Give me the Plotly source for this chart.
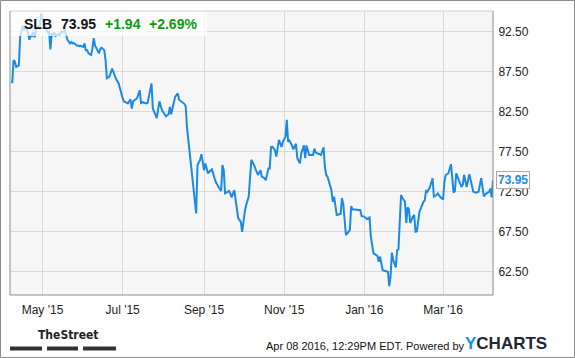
import plotly.graph_objects as go

dates = [
    "2015-04-07", "2015-04-08", "2015-04-09", "2015-04-10", "2015-04-11", "2015-04-13", "2015-04-14",
    "2015-04-15", "2015-04-16", "2015-04-17", "2015-04-18", "2015-04-20", "2015-04-21", "2015-04-22",
    "2015-04-23", "2015-04-24", "2015-04-25", "2015-04-26", "2015-04-27", "2015-04-29", "2015-04-30",
    "2015-05-01", "2015-05-03", "2015-05-05", "2015-05-06", "2015-05-07", "2015-05-08", "2015-05-09",
    "2015-05-10", "2015-05-11", "2015-05-13", "2015-05-14", "2015-05-15", "2015-05-16", "2015-05-18",
    "2015-05-19", "2015-05-20", "2015-05-22", "2015-05-23", "2015-05-24", "2015-05-25", "2015-05-27",
    "2015-05-28", "2015-05-29", "2015-05-30", "2015-06-01", "2015-06-02", "2015-06-03", "2015-06-04",
    "2015-06-05", "2015-06-07", "2015-06-08", "2015-06-09", "2015-06-10", "2015-06-12", "2015-06-13",
    "2015-06-14", "2015-06-15", "2015-06-17", "2015-06-18", "2015-06-19", "2015-06-21", "2015-06-23",
    "2015-06-25", "2015-06-26", "2015-06-28", "2015-06-29", "2015-07-01", "2015-07-02", "2015-07-05",
    "2015-07-07", "2015-07-08", "2015-07-09", "2015-07-11", "2015-07-12", "2015-07-14", "2015-07-15",
    "2015-07-16", "2015-07-19", "2015-07-20", "2015-07-23", "2015-07-24", "2015-07-27", "2015-07-29",
    "2015-07-31", "2015-08-03", "2015-08-05", "2015-08-06", "2015-08-07", "2015-08-10", "2015-08-12",
    "2015-08-13", "2015-08-15", "2015-08-17", "2015-08-18", "2015-08-19", "2015-08-21", "2015-08-23",
    "2015-08-24", "2015-08-26", "2015-08-27", "2015-08-29", "2015-08-30", "2015-09-01", "2015-09-02",
    "2015-09-04", "2015-09-05", "2015-09-07", "2015-09-09", "2015-09-10", "2015-09-12", "2015-09-14",
    "2015-09-15", "2015-09-16", "2015-09-17", "2015-09-18", "2015-09-20", "2015-09-21", "2015-09-22",
    "2015-09-24", "2015-09-25", "2015-09-27", "2015-09-29", "2015-09-30", "2015-10-02", "2015-10-03",
    "2015-10-05", "2015-10-06", "2015-10-07", "2015-10-09", "2015-10-11", "2015-10-12", "2015-10-14",
    "2015-10-15", "2015-10-17", "2015-10-18", "2015-10-20", "2015-10-21", "2015-10-22", "2015-10-23",
    "2015-10-25", "2015-10-26", "2015-10-28", "2015-10-30", "2015-10-31", "2015-11-02", "2015-11-03",
    "2015-11-04", "2015-11-05", "2015-11-07", "2015-11-08", "2015-11-10", "2015-11-11", "2015-11-13",
    "2015-11-14", "2015-11-16", "2015-11-17", "2015-11-18", "2015-11-20", "2015-11-21", "2015-11-23",
    "2015-11-24", "2015-11-25", "2015-11-28", "2015-11-29", "2015-12-01", "2015-12-02", "2015-12-03",
    "2015-12-04", "2015-12-07", "2015-12-08", "2015-12-09", "2015-12-11", "2015-12-13", "2015-12-14",
    "2015-12-15", "2015-12-16", "2015-12-18", "2015-12-19", "2015-12-21", "2015-12-22", "2015-12-23",
    "2015-12-25", "2015-12-29", "2015-12-30", "2016-01-01", "2016-01-03", "2016-01-05", "2016-01-06",
    "2016-01-08", "2016-01-11", "2016-01-12", "2016-01-13", "2016-01-14", "2016-01-15", "2016-01-17",
    "2016-01-19", "2016-01-20", "2016-01-21", "2016-01-22", "2016-01-23", "2016-01-25", "2016-01-26",
    "2016-01-27", "2016-01-29", "2016-01-30", "2016-02-01", "2016-02-02", "2016-02-03", "2016-02-04",
    "2016-02-05", "2016-02-07", "2016-02-08", "2016-02-09", "2016-02-10", "2016-02-12", "2016-02-13",
    "2016-02-15", "2016-02-16", "2016-02-17", "2016-02-18", "2016-02-20", "2016-02-22", "2016-02-23",
    "2016-02-25", "2016-02-26", "2016-02-28", "2016-03-01", "2016-03-02", "2016-03-03", "2016-03-05",
    "2016-03-07", "2016-03-09", "2016-03-10", "2016-03-11", "2016-03-13", "2016-03-15", "2016-03-16",
    "2016-03-17", "2016-03-19", "2016-03-20", "2016-03-21", "2016-03-24", "2016-03-26", "2016-03-28",
    "2016-03-30", "2016-03-31", "2016-04-01", "2016-04-03", "2016-04-05", "2016-04-06", "2016-04-07",
    "2016-04-08",
]

prices = [
    86.25, 86.2, 88.96, 88.75, 88.1, 88.3, 91.9,
    92.5, 93.3, 92.7, 93.3, 92.3, 91.5, 92.1,
    91.9, 92.5, 91.8, 92.7, 93.1, 93.3, 94.8,
    94.0, 93.2, 92.4, 92.5, 90.3, 92.3, 92.1,
    92.4, 92.0, 92.2, 92.1, 92.5, 92.4, 92.7,
    92.1, 91.5, 91.05, 91.2, 91.05, 91.1, 90.8,
    90.8, 90.7, 90.75, 90.6, 91.05, 90.2, 90.2,
    89.8, 89.6, 90.4, 91.7, 90.8, 90.2, 89.8,
    90.4, 90.5, 90.2, 88.96, 86.7, 86.9, 87.9,
    86.9, 86.6, 86.05, 85.3, 84.2, 83.8, 83.55,
    84.05, 82.9, 83.8, 84.05, 84.2, 85.2, 83.6,
    83.7, 83.55, 83.6, 86.05, 82.9, 81.7, 83.8,
    82.7, 81.95, 82.2, 83.1, 82.2, 84.4, 84.8,
    84.0, 83.8, 83.5, 83.2, 80.6, 77.5, 74.4,
    72.7, 69.8, 75.85, 76.5, 77.2, 75.2, 76.05,
    74.8, 75.0, 75.3, 74.2, 73.7, 73.1, 72.6,
    75.85, 75.2, 72.3, 72.4, 72.6, 72.3, 71.8,
    72.7, 71.25, 69.2, 68.75, 67.5, 70.0, 70.8,
    71.9, 73.95, 76.5, 75.85, 75.1, 74.6, 75.2,
    74.4, 74.2, 73.95, 75.4, 75.4, 78.1, 78.15,
    77.7, 76.9, 79.0, 78.1, 78.75, 79.4, 81.5,
    78.75, 78.9, 78.3, 77.8, 78.5, 76.7, 76.05,
    77.3, 78.3, 76.7, 78.3, 77.1, 77.1, 77.1,
    77.9, 77.4, 77.2, 77.1, 78.05, 75.6, 74.6,
    74.4, 72.7, 71.25, 71.9, 69.6, 69.7, 69.75,
    71.7, 71.0, 67.1, 67.3, 67.7, 70.7, 70.3,
    70.3, 70.2, 69.45, 69.4, 69.1, 69.3, 66.9,
    64.8, 64.5, 63.75, 64.4, 63.3, 62.7, 62.6,
    62.5, 60.7, 61.9, 64.9, 64.0, 63.05, 65.2,
    65.3, 72.1, 71.75, 71.25, 68.6, 70.55, 70.3,
    68.6, 69.4, 69.6, 67.5, 67.55, 70.0, 70.4,
    71.25, 71.4, 72.6, 72.5, 73.1, 74.2, 71.9,
    72.1, 72.3, 71.8, 71.55, 73.75, 74.6, 74.8,
    75.95, 72.4, 72.6, 74.8, 73.95, 73.1, 73.4,
    74.6, 73.1, 73.75, 74.7, 72.5, 72.4, 72.5,
    74.2, 73.1, 71.95, 72.3, 72.5, 72.9, 71.8,
    73.95,
]

ytick_vals = [62.5, 67.5, 72.5, 77.5, 82.5, 87.5, 92.5]
ytick_text = ["62.50", "67.50", "72.50", "77.50", "82.50", "87.50", "92.50"]
xtick_vals = ["2015-05-01", "2015-07-01", "2015-09-01", "2015-11-01", "2016-01-01", "2016-03-01"]
xtick_text = ["May '15", "Jul '15", "Sep '15", "Nov '15", "Jan '16", "Mar '16"]

ticker = "SLB"
last_price = "73.95"
change = "+1.94"
change_pct = "+2.69%"
stamp = "Apr 08 2016, 12:29PM EDT. Powered by"

W, H = 575, 358
L, R, T, B = 10, 82, 11, 63
PW, PH = W - L - R, H - T - B


def px(x):
    return (x - L) / PW


def py(y):
    return (H - B - y) / PH


LINE = "#1a8ae6"
GREEN = "#0f9a0f"
SANS = "Liberation Sans, Arial, sans-serif"

fig = go.Figure()
fig.add_trace(go.Scatter(
    x=dates, y=prices, mode="lines",
    line=dict(color=LINE, width=2), hoverinfo="skip", showlegend=False,
))

shapes = [
    dict(type="rect", xref="paper", yref="paper", x0=px(10), x1=px(207), y0=py(36), y1=py(11),
         fillcolor="rgba(255,255,255,0.72)", line=dict(width=0), layer="above"),
    dict(type="line", xref="paper", yref="paper", x0=0, x1=1, y0=1, y1=1,
         line=dict(color="#d0d0d0", width=1), layer="above"),
    dict(type="line", xref="paper", yref="paper", x0=0, x1=0, y0=0, y1=1,
         line=dict(color="#8c8c8c", width=1), layer="above"),
    dict(type="line", xref="paper", yref="paper", x0=1, x1=1, y0=0, y1=1,
         line=dict(color="#8c8c8c", width=1), layer="above"),
    dict(type="line", xref="paper", yref="paper", x0=0, x1=1, y0=0, y1=0,
         line=dict(color="#8c8c8c", width=1), layer="above"),
    dict(type="rect", xref="paper", yref="paper", x0=px(0.5), x1=px(574.5), y0=py(357.5), y1=py(0.5),
         line=dict(color="#8c8c8c", width=1), fillcolor="rgba(0,0,0,0)", layer="above"),
]
for a, b in [(10, 42), (47, 78), (83, 116)]:
    shapes.append(dict(type="rect", xref="paper", yref="paper", x0=px(a), x1=px(b),
                       y0=py(350.5), y1=py(346.5), fillcolor="#333333", line=dict(width=0)))

ann = []
for xpos, txt, col in [(21.5, ticker, "#111111"), (58.5, last_price, "#111111"),
                       (102.5, change, GREEN), (147, change_pct, GREEN)]:
    ann.append(dict(xref="paper", yref="paper", x=px(xpos), y=py(23.5), xanchor="left", yanchor="middle",
                    text="<b>%s</b>" % txt, showarrow=False, font=dict(family=SANS, size=14, color=col)))
ann.append(dict(xref="paper", yref="y", x=1, y=prices[-1], xanchor="left", yanchor="middle", xshift=3,
                text="<b>%s</b>" % last_price, showarrow=False,
                font=dict(family=SANS, size=12, color=LINE),
                bgcolor="#ffffff", bordercolor="#aaaaaa", borderwidth=1, borderpad=1))
ann.append(dict(xref="paper", yref="paper", x=px(36), y=py(335), xanchor="left", yanchor="middle",
                text="<b>TheStreet</b>", showarrow=False,
                font=dict(family="Liberation Sans Narrow, DejaVu Sans Condensed, sans-serif", size=12,
                          color="#222222")))
ann.append(dict(xref="paper", yref="paper", x=px(264), y=py(346), xanchor="left", yanchor="middle",
                text=stamp, showarrow=False,
                font=dict(family=SANS, size=11, color="#111111")))
ann.append(dict(xref="paper", yref="paper", x=px(463), y=py(344), xanchor="left", yanchor="middle",
                text="<b><span style='color:#1a8ae6'>Y</span>CHARTS</b>", showarrow=False,
                font=dict(family=SANS, size=17, color="#1e2833")))

fig.update_layout(
    width=W, height=H,
    margin=dict(l=L, r=R, t=T, b=B, pad=0),
    paper_bgcolor="#ffffff", plot_bgcolor="#f6f6f6",
    shapes=shapes, annotations=ann,
    xaxis=dict(type="date", range=["2015-04-06 06:00", "2016-04-08"],
               tickvals=xtick_vals, ticktext=xtick_text,
               showgrid=True, gridcolor="#d9d9d9", gridwidth=1,
               ticks="outside", ticklen=4, tickcolor="rgba(0,0,0,0)",
               tickfont=dict(family=SANS, size=12, color="#222222"),
               zeroline=False, showline=False, fixedrange=True),
    yaxis=dict(side="right", range=[59.6, 95.1],
               tickvals=ytick_vals, ticktext=ytick_text,
               showgrid=True, gridcolor="#d9d9d9", gridwidth=1,
               ticks="outside", ticklen=2, tickcolor="rgba(0,0,0,0)",
               tickfont=dict(family=SANS, size=12, color="#222222"),
               zeroline=False, showline=False, fixedrange=True),
)

fig.write_html("out.html")
